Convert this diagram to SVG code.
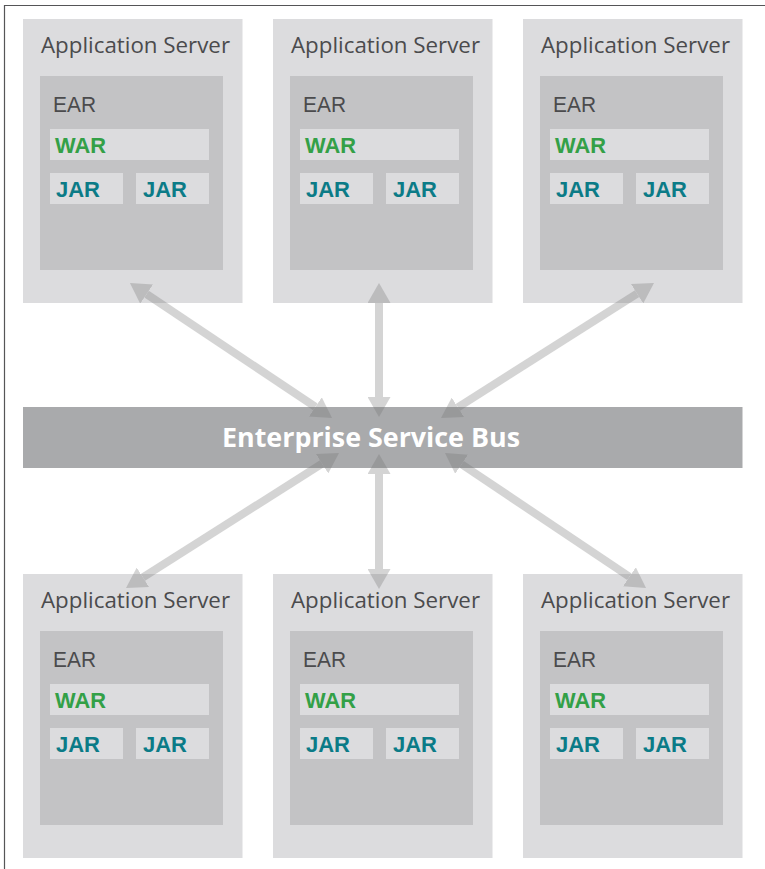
<svg xmlns="http://www.w3.org/2000/svg" width="765" height="869" viewBox="0 0 765 869">
<defs>
<style>
.srv{fill:#dcdcde}
.ear{fill:#c3c3c5}
.sub{fill:#dcdcde}
.t-srv{font-family:"Open Sans","Liberation Sans",sans-serif;font-size:22px;fill:#4b4b4d}
.t-ear{font-family:"Liberation Sans","Open Sans",sans-serif;font-size:22px;fill:#4b4b4d}
.t-war{font-family:"Liberation Sans","Open Sans",sans-serif;font-size:22px;font-weight:bold;fill:#33a047}
.t-jar{font-family:"Liberation Sans","Open Sans",sans-serif;font-size:22px;font-weight:bold;fill:#0b7b87}
.t-bus{font-family:"Open Sans","Liberation Sans",sans-serif;font-size:26px;font-weight:bold;fill:#ffffff}
.conn{stroke:#737373;stroke-width:8;fill:none;marker-start:url(#head);marker-end:url(#head)}
</style>
<marker id="head" markerUnits="userSpaceOnUse" markerWidth="20" markerHeight="23" viewBox="0 0 20 23" refX="0" refY="11.5" orient="auto-start-reverse">
<path d="M0,0 L20,11.5 L0,23 Z" fill="#737373"/>
</marker>
<g id="server">
<rect class="srv" x="0" y="0" width="219.5" height="284"/>
<text class="t-srv" x="18" y="34" textLength="189" lengthAdjust="spacingAndGlyphs">Application Server</text>
<rect class="ear" x="17" y="57" width="183" height="194"/>
<text class="t-ear" x="30" y="92.5" textLength="43" lengthAdjust="spacingAndGlyphs">EAR</text>
<rect class="sub" x="27" y="110" width="159" height="31"/>
<text class="t-war" x="32" y="134" textLength="51" lengthAdjust="spacingAndGlyphs">WAR</text>
<rect class="sub" x="27" y="154" width="73" height="31"/>
<text class="t-jar" x="33" y="178" textLength="44" lengthAdjust="spacingAndGlyphs">JAR</text>
<rect class="sub" x="113" y="154" width="73" height="31"/>
<text class="t-jar" x="120" y="178" textLength="44" lengthAdjust="spacingAndGlyphs">JAR</text>
</g>
</defs>
<rect x="0" y="0" width="765" height="869" fill="#ffffff"/>
<path d="M4.5,869 V5.5 H765" fill="none" stroke="#555557" stroke-width="1.2"/>
<g id="server-top-1"><use href="#server" x="23" y="19"/></g>
<g id="server-top-2"><use href="#server" x="273" y="19"/></g>
<g id="server-top-3"><use href="#server" x="523" y="19"/></g>
<g id="server-bottom-1"><use href="#server" x="23" y="574"/></g>
<g id="server-bottom-2"><use href="#server" x="273" y="574"/></g>
<g id="server-bottom-3"><use href="#server" x="523" y="574"/></g>
<g id="esb">
<rect x="23" y="407" width="719.5" height="61" fill="#a9aaac"/>
<text class="t-bus" x="222" y="447" textLength="298" lengthAdjust="spacingAndGlyphs">Enterprise Service Bus</text>
</g>
<g id="connectors" opacity="0.3">
<line class="conn" x1="146.6" y1="294.1" x2="315.4" y2="406.9"/>
<line class="conn" x1="379" y1="303" x2="379" y2="397"/>
<line class="conn" x1="637.1" y1="293.7" x2="457.9" y2="407.3"/>
<line class="conn" x1="322.1" y1="463.7" x2="142.9" y2="577.3"/>
<line class="conn" x1="379" y1="474" x2="379" y2="569"/>
<line class="conn" x1="461.6" y1="464.2" x2="629.4" y2="576.8"/>
</g>
</svg>
